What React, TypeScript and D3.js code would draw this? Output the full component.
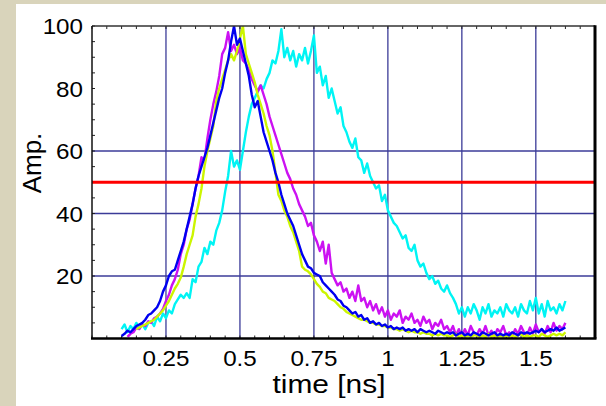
import React from "react";
import * as d3 from "d3";

// sampling step of the scope traces [ns]
const STEP = 0.01;

const cyanStart = 0.1;
const cyanValues = [
  3, 4.5, 2, 4, 3, 5, 3.5, 4.5, 3, 5,
  5.5, 4, 7, 5.5, 8, 6.5, 9, 8, 11, 12.5,
  14, 13, 14.5, 13, 19, 18, 23, 24.5, 29, 27,
  31, 30, 34.5, 37, 41, 47, 52, 60, 55, 57,
  54, 60, 66, 71, 75, 77, 79, 81, 80, 83,
  85, 89, 88, 92, 99, 90, 93, 89, 92, 87,
  91, 89, 93, 88, 92, 97, 85, 87, 81, 84,
  77, 80, 76, 72, 74, 68, 66, 63, 61, 64,
  58, 57, 53, 56, 52, 50, 48, 49, 44, 46,
  41, 39, 37, 36, 34, 32, 33, 29, 28, 30,
  25, 23, 24, 21, 19, 20, 17.5, 18.5, 16, 15,
  17, 14.5, 13, 11, 8, 10, 7, 10, 8, 11,
  9, 6, 10, 8, 11, 7, 9, 8, 10, 7,
  11, 9, 8, 10, 7, 11, 9, 8, 12, 9,
  13, 8, 11, 7, 12, 9, 10, 8, 11, 9,
  12,
];

const magentaStart = 0.12;
const magentaValues = [
  0.5, 1.5, 2, 3.5, 3, 4.5, 4, 5.5,
  5, 6.5, 7, 8, 9.5, 12, 14, 17, 19, 22,
  27, 30, 35, 38, 43, 48, 52, 58, 57, 64,
  70, 75, 79, 84, 91, 93, 98, 92, 94, 91,
  93, 89, 88, 86, 83, 81, 79, 81, 78, 75,
  71, 68, 65, 62, 59, 56, 53, 51, 48, 46,
  43, 41, 39, 36, 37, 33, 31, 28, 31, 24,
  30, 21, 19, 17, 18, 15, 16, 13, 15, 12,
  17, 12, 13, 10, 12, 9, 11, 8, 10, 7,
  9, 6, 8, 7, 9, 5, 7, 6, 8, 5,
  6, 4, 7, 5, 6, 3, 5, 4, 6, 3,
  4, 2, 4, 1, 3, 0.5, 3, 1, 4, 2,
  1, 3, 1.5, 4, 1, 2.5, 0.5, 3, 2, 4,
  1, 2, 0.5, 3, 1.5, 4, 2, 1, 3.5, 1.5,
  4.5, 2, 3, 1.5, 4, 2, 5, 2.5, 4, 3,
  5,
];

const yellowStart = 0.15;
const yellowValues = [
  3, 3.5, 4, 4.5, 5,
  5.5, 6, 7, 8, 9, 10.5, 12, 14, 16, 17.5,
  19.5, 23, 27, 30, 33, 39, 43, 48, 55, 60,
  64, 68, 76, 80, 83, 86, 89, 91, 89, 92,
  96, 100, 91, 88, 85, 82, 78, 75, 72, 68,
  65, 60, 53, 46, 44, 41, 39, 36, 34, 31,
  28, 23, 22, 21.5, 20.5, 19, 17.5, 16.5, 15, 14.5,
  13, 12.5, 12, 11, 10, 9.5, 8.5, 8, 7.5, 7,
  6.5, 6, 6, 5.5, 5, 5, 4.5, 4.5, 4, 4,
  3.5, 3.5, 3, 3, 2.5, 3, 2.5, 2, 2.5, 2,
  2, 1.5, 2, 1.5, 1.5, 1, 1.5, 1, 1.5, 1,
  1, 0.5, 1, 1.5, 0.5, 1, 0.5, 1, 0.5, 1,
  1, 0.5, 1, 0.5, 1.5, 0.5, 1, 0.5, 1, 0.5,
  1, 0.5, 1, 0.5, 1, 1.5, 0.5, 1, 0.5, 1,
  1, 0.5, 1.5, 1, 0.5, 1, 1.5, 1, 1.5, 1,
  2,
];

const blueStart = 0.1;
const blueValues = [
  0.8, 1.5, 2.5, 2, 3, 4, 4.5, 5, 6, 7.5,
  8, 9, 10, 12, 15, 17, 20, 21.5, 22, 25,
  28, 31, 35, 39, 43, 48, 52, 55, 58, 61,
  65, 69, 73, 77, 80, 85, 89, 95, 100, 94,
  96, 92, 88, 84, 78, 74, 76, 71, 66, 63,
  60, 57, 53, 50, 46, 43, 40, 38, 36, 33,
  30, 27, 25, 23, 22.5, 21, 20.5, 20, 18, 17,
  16, 15, 14, 12.5, 12, 10.5, 10, 9, 8, 8.5,
  7, 7.5, 6, 6.5, 5, 5.5, 4.5, 5, 4, 4.5,
  3.5, 4, 3, 3.5, 3, 3.5, 2.5, 3, 2.5, 3,
  2, 3, 2.5, 2, 2.5, 2, 1.5, 2.5, 2, 1.5,
  2, 1.5, 2, 1, 1.5, 2, 1, 1.5, 1, 2,
  1.5, 1, 2, 1.5, 1, 1.5, 2, 1, 1.5, 1,
  1.5, 1, 2, 1.5, 1, 2, 1.5, 2, 1.5, 2,
  2.5, 2, 3, 2, 2.5, 3, 2.5, 3.5, 2.5, 3,
  3.5,
];

const threshold = 50;

const xTickValues = [0.25, 0.5, 0.75, 1, 1.25, 1.5];
const xTickLabels = ["0.25", "0.5", "0.75", "1", "1.25", "1.5"];
const yTickValues = [20, 40, 60, 80, 100];
const yTickLabels = ["20", "40", "60", "80", "100"];
const yGridValues = [20, 40, 60];

const series = [
  { name: "cyan", start: cyanStart, values: cyanValues, color: "#00f4f4" },
  { name: "magenta", start: magentaStart, values: magentaValues, color: "#cc11f2" },
  { name: "yellow", start: yellowStart, values: yellowValues, color: "#ccf500" },
  { name: "blue", start: blueStart, values: blueValues, color: "#0000f0" },
];

const W = 606;
const H = 406;
const margin = { left: 92, right: 11, top: 26, bottom: 67.5 };
const font = "'Liberation Sans', Arial, sans-serif";

export default function App() {
  const x = d3.scaleLinear().domain([0, 1.7]).range([margin.left, W - margin.right]);
  const y = d3.scaleLinear().domain([0, 100]).range([H - margin.bottom, margin.top]);
  const [x0, x1] = x.range();
  const [y0, y1] = y.range();

  const pathFor = (start: number, values: number[]) =>
    d3
      .line<number>()
      .x((_, i) => x(start + i * STEP))
      .y((d) => y(d))(values) || "";

  return (
    <svg
      width={W}
      height={H}
      style={{ position: "absolute", left: 0, top: 0 }}
      fontFamily={font}
    >
      <defs>
        <clipPath id="plot">
          <rect x={x0} y={y1} width={x1 - x0} height={y0 - y1} />
        </clipPath>
      </defs>
      <rect width={W} height={H} fill="#d9d4bb" />
      <rect x={16} y={4} width={W - 16} height={H - 4} fill="#ffffff" />

      {/* grid */}
      {xTickValues.map((v) => (
        <line key={"gx" + v} x1={x(v)} x2={x(v)} y1={y1} y2={y0} stroke="#3b3b98" strokeWidth={1.3} />
      ))}
      {yGridValues.map((v) => (
        <line key={"gy" + v} x1={x0} x2={x1} y1={y(v)} y2={y(v)} stroke="#3b3b98" strokeWidth={1.3} />
      ))}

      {/* minor ticks */}
      {x.ticks(34).map((v) => (
        <g key={"tx" + v}>
          <line x1={x(v)} x2={x(v)} y1={y0} y2={y0 - 3} stroke="#222" strokeWidth={1} />
          <line x1={x(v)} x2={x(v)} y1={y1} y2={y1 + 3} stroke="#222" strokeWidth={1} />
        </g>
      ))}
      {y.ticks(20).map((v) => (
        <line key={"ty" + v} x1={x0} x2={x0 + 3} y1={y(v)} y2={y(v)} stroke="#222" strokeWidth={1} />
      ))}

      {/* traces */}
      <g clipPath="url(#plot)" fill="none" strokeWidth={2.4} strokeLinejoin="round">
        {series.map((s) => (
          <path key={s.name} d={pathFor(s.start, s.values)} stroke={s.color} />
        ))}
      </g>

      {/* 50% level */}
      <line x1={x0} x2={x1} y1={y(threshold)} y2={y(threshold)} stroke="#ff0000" strokeWidth={3.2} />

      {/* frame */}
      <line x1={x0} x2={x1} y1={y1} y2={y1} stroke="#333" strokeWidth={1.5} />
      <line x1={x0} x2={x0} y1={y1} y2={y0} stroke="#111" strokeWidth={1.5} />
      <line x1={x0 - 1} x2={x1 + 1.5} y1={y0} y2={y0} stroke="#000" strokeWidth={2.5} />
      <line x1={x1} x2={x1} y1={y1 - 0.75} y2={y0} stroke="#000" strokeWidth={3} />

      {/* tick labels */}
      {xTickValues.map((v, i) => (
        <text
          key={"lx" + v}
          transform={`translate(${x(v)},366) scale(1.1,1)`}
          textAnchor="middle"
          fontSize={22}
          fill="#000"
        >
          {xTickLabels[i]}
        </text>
      ))}
      {yTickValues.map((v, i) => (
        <text
          key={"ly" + v}
          transform={`translate(83,${y(v) + 8}) scale(1.1,1)`}
          textAnchor="end"
          fontSize={22}
          fill="#000"
        >
          {yTickLabels[i]}
        </text>
      ))}

      <text transform="translate(329,393) scale(1.15,1)" textAnchor="middle" fontSize={26} fill="#000">
        time [ns]
      </text>
      <text transform="translate(41,163) rotate(-90)" textAnchor="middle" fontSize={26} fill="#000">
        Amp.
      </text>
    </svg>
  );
}
